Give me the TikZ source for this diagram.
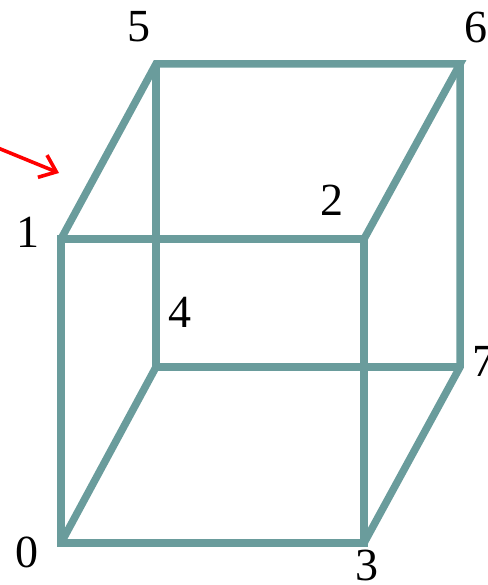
\documentclass[tikz,border=0pt]{standalone}
\usepackage{fontspec}
\setmainfont{Liberation Serif}
\usetikzlibrary{arrows.meta,positioning}
\definecolor{edgeteal}{HTML}{6A9C9C}
\begin{document}
\begin{tikzpicture}[x=1pt,y=-1pt,
  edge/.style={draw=edgeteal,line width=7.5pt,line cap=butt,line join=miter},
  lab/.style={font=\fontsize{46}{46}\selectfont,inner sep=0pt,text=black},
  arr/.style={-{Straight Barb[length=15pt,width=24pt]},red,line width=3.6pt}]
\useasboundingbox (0,0) rectangle (487,585);
%%
%% Corners
\coordinate (v0) at ( 61,543);
\coordinate (v1) at ( 61,239);
\coordinate (v2) at (364,239);
\coordinate (v3) at (364,543);
\coordinate (v4) at (156,367);
\coordinate (v5) at (156, 64);
\coordinate (v6) at (460, 64);
\coordinate (v7) at (460,367);
%%
%% Pointer
\coordinate (ptail) at (-2,148);
\coordinate (phead) at (59,173);
\draw[arr] (ptail) -- (phead);
%%
%% Back edges
\draw[edge] (v4) -- (v5);
\draw[edge] (v4) -- (v7);
\draw[edge] (v0) -- (v4);
%%
%% Front and top edges
\draw[edge] (v0) -- (v1) -- (v2) -- (v3) -- cycle;
\draw[edge] (v1) -- (v5) -- (v6) -- (v2);
\draw[edge] (v6) -- (v7) -- (v3);
%%
%% Labels
\node[lab] (n0) at ( 27,552) {0};
\node[lab] (n1) at ( 28,232) {1};
\node[lab] (n2) at (332,200) {2};
\node[lab] (n3) at (367,565) {3};
\node[lab] (n4) at (180,312) {4};
\node[lab] (n5) at (139, 27) {5};
\node[lab] (n6) at (476, 27) {6};
\node[lab] (n7) at (484,361) {7};
\end{tikzpicture}
\end{document}
